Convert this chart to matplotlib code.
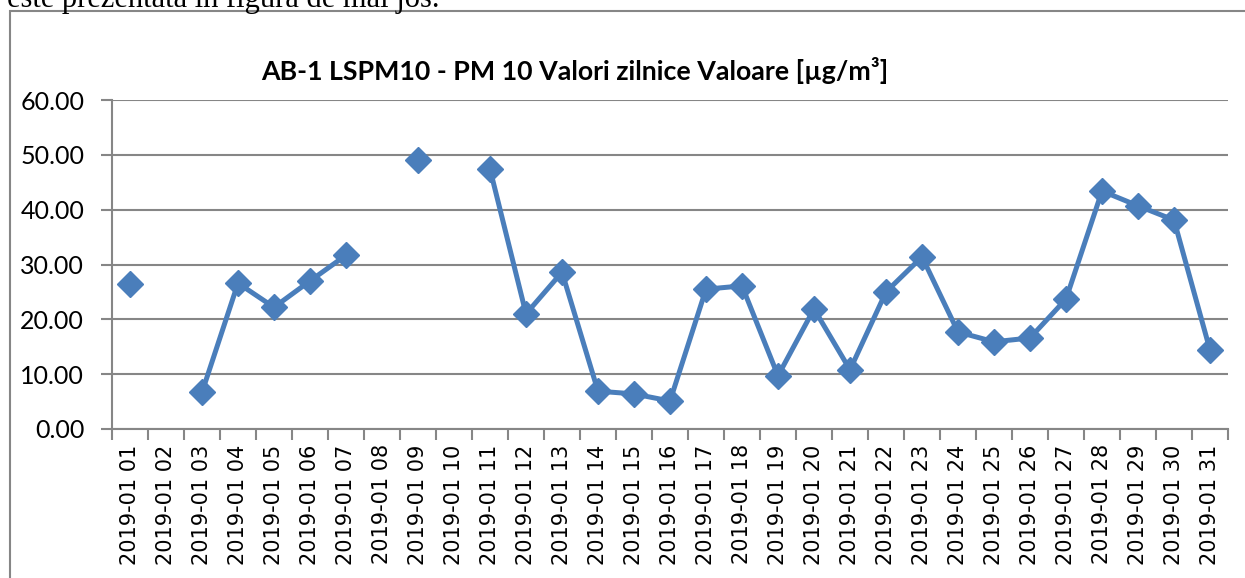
import numpy as np
import matplotlib
matplotlib.use("Agg")
import matplotlib.pyplot as plt
from matplotlib.patches import Rectangle

# daily PM10 values, None = no data
days = [f"2019-01 {d:02d}" for d in range(1, 32)]
values = [26.4, None, 6.7, 26.6, 22.2, 27.0, 31.7, None, 49.0, None,
          47.4, 21.0, 28.6, 6.9, 6.4, 5.1, 25.5, 26.1, 9.7, 21.9,
          10.8, 25.0, 31.4, 17.7, 15.9, 16.6, 23.7, 43.4, 40.7, 38.1,
          14.4]
title = "AB-1 LSPM10 - PM 10 Valori zilnice Valoare [µg/m³]"
yticks = [0, 10, 20, 30, 40, 50, 60]

plt.rcParams["font.family"] = ["Lato", "DejaVu Sans"]

fig = plt.figure(figsize=(12.45, 5.78), dpi=100)

# document text cut off above the chart frame
fig.text(7 / 1245, 1.0 - 7 / 578, "este prezentată în figura de mai jos.",
         family="Liberation Serif", fontsize=22, va="baseline", ha="left")
fig.patches.append(Rectangle((10 / 1245, -0.1), 1.2, 1.1 - 11 / 578,
                             transform=fig.transFigure, fill=False,
                             edgecolor="#868686", linewidth=1.5))

ax = fig.add_axes([112 / 1245, 1 - 429 / 578, (1228 - 112) / 1245, (429 - 100) / 578])

x = np.arange(len(days))
y = np.array([np.nan if v is None else v for v in values])
ax.plot(x, y, color="#4A7EBB", linewidth=3.6, marker="D", markersize=13.5,
        markeredgecolor="#4A7EBB", clip_on=False, zorder=3)

ax.set_xlim(-0.5, len(days) - 0.5)
ax.set_ylim(0, 60)
ax.set_yticks(yticks)
ax.set_yticklabels([f"{t:.2f}" for t in yticks], fontsize=18)
ax.grid(axis="y", color="#868686", linewidth=1.5)
ax.set_axisbelow(True)

ax.set_xticks(x)
ax.set_xticklabels(days, rotation=90, fontsize=15, family="DejaVu Sans")
ax.set_xticks(np.arange(-0.5, len(days)), minor=True)
ax.tick_params(axis="x", which="major", length=0, pad=11)
ax.tick_params(axis="x", which="minor", length=8, width=1.5, color="#868686")
ax.tick_params(axis="y", length=8, width=1.5, color="#868686", pad=12)

for s in ["top", "right"]:
    ax.spines[s].set_visible(False)
for s in ["left", "bottom"]:
    ax.spines[s].set_color("#868686")
    ax.spines[s].set_linewidth(1.5)

fig.text(575 / 1245, 1 - 70 / 578, title, fontsize=19.3, fontweight="bold",
         ha="center", va="center")

fig.savefig("out.png", dpi=100)
